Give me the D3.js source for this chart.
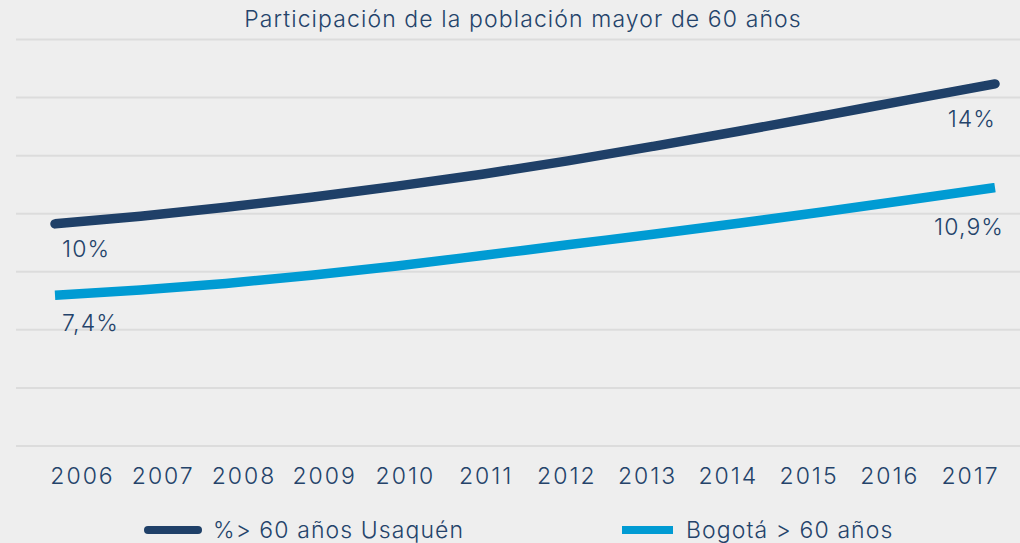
<!DOCTYPE html>
<html>
<head>
<meta charset="utf-8">
<script src="https://cdn.jsdelivr.net/npm/d3@7"></script>
<style>
  html, body { margin: 0; padding: 0; background: #eeeeee; }
  svg text { font-family: "Inter", "Noto Sans", sans-serif; font-weight: 300; fill: #24436a; letter-spacing: 1.1px; }
</style>
</head>
<body>
<div id="chart-area"></div>
<script>
/*
*    participacion 60+
*/

var width = 1020,
    height = 543;

// Data
var years = ["2006", "2007", "2008", "2009", "2010", "2011", "2012", "2013", "2014", "2015", "2016", "2017"];
var usaquen = [9.65, 9.91, 10.22, 10.57, 10.95, 11.36, 11.82, 12.32, 12.84, 13.38, 13.93, 14.47];
var bogota = [7.19, 7.37, 7.60, 7.88, 8.20, 8.56, 8.93, 9.29, 9.67, 10.07, 10.48, 10.90];
var gridValues = [2, 4, 6, 8, 10, 12, 14, 16];
var seriesNames = ["%> 60 años Usaquén", "Bogotá > 60 años"];
var endLabels = { usaquen: ["10%", "14%"], bogota: ["7,4%", "10,9%"] };
var title = "Participación de la población mayor de 60 años";

var svg = d3.select("#chart-area").append("svg")
    .attr("width", width)
    .attr("height", height);

svg.append("rect")
    .attr("width", width)
    .attr("height", height)
    .attr("fill", "#eeeeee");

// Scales
var x = d3.scalePoint().domain(years).range([55, 995]);
var xTicks = d3.scalePoint().domain(years).range([81, 969]);
var y = d3.scaleLinear().domain([2, 16]).range([446, 39.5]);

// Gridlines
svg.append("g").selectAll("line")
    .data(gridValues)
    .enter()
    .append("line")
    .attr("x1", 16)
    .attr("x2", width)
    .attr("y1", function(d){ return y(d); })
    .attr("y2", function(d){ return y(d); })
    .attr("stroke", "#dcdcdc")
    .attr("stroke-width", 2);

// Title
svg.append("text")
    .attr("x", 523)
    .attr("y", 27)
    .attr("text-anchor", "middle")
    .attr("font-size", 23)
    .text(title);

// X axis (labels only)
var xAxis = svg.append("g")
    .attr("transform", "translate(0,455)")
    .call(d3.axisBottom(xTicks).tickSize(0).tickPadding(0));
xAxis.select(".domain").remove();
xAxis.attr("font-family", null).attr("font-size", null);
xAxis.selectAll("text")
    .attr("dy", null)
    .attr("x", 1)
    .attr("y", 28.5)
    .attr("font-size", 23)
    .attr("fill", "#24436a")
    .style("letter-spacing", "2px");

// Lines
var line = d3.line()
    .x(function(d, i){ return x(years[i]); })
    .y(function(d){ return y(d); })
    .curve(d3.curveMonotoneX);

svg.append("path")
    .datum(bogota)
    .attr("fill", "none")
    .attr("stroke", "#009bd3")
    .attr("stroke-width", 9.5)
    .attr("d", line);

svg.append("path")
    .datum(usaquen)
    .attr("fill", "none")
    .attr("stroke", "#1f4068")
    .attr("stroke-width", 9.5)
    .attr("stroke-linecap", "round")
    .attr("d", line);

// Value labels
var last = years.length - 1;
svg.append("text")
    .attr("x", x(years[0]) + 7)
    .attr("y", y(usaquen[0]) + 33)
    .attr("font-size", 23)
    .text(endLabels.usaquen[0]);
svg.append("text")
    .attr("x", x(years[0]) + 7)
    .attr("y", y(bogota[0]) + 36)
    .attr("font-size", 23)
    .text(endLabels.bogota[0]);
svg.append("text")
    .attr("x", x(years[last]) + 1)
    .attr("y", y(usaquen[last]) + 43)
    .attr("text-anchor", "end")
    .attr("font-size", 23)
    .text(endLabels.usaquen[1]);
svg.append("text")
    .attr("x", x(years[last]) + 9)
    .attr("y", y(bogota[last]) + 47)
    .attr("text-anchor", "end")
    .attr("font-size", 23)
    .text(endLabels.bogota[1]);

// Legend
var legend = svg.append("g");

legend.append("line")
    .attr("x1", 148).attr("x2", 198)
    .attr("y1", 530).attr("y2", 530)
    .attr("stroke", "#1f4068")
    .attr("stroke-width", 8)
    .attr("stroke-linecap", "round");
legend.append("text")
    .attr("x", 213)
    .attr("y", 538)
    .attr("font-size", 23)
    .text(seriesNames[0]);

legend.append("rect")
    .attr("x", 622).attr("y", 526)
    .attr("width", 51).attr("height", 8)
    .attr("fill", "#009bd3");
legend.append("text")
    .attr("x", 686)
    .attr("y", 538)
    .attr("font-size", 23)
    .text(seriesNames[1]);
</script>
</body>
</html>
